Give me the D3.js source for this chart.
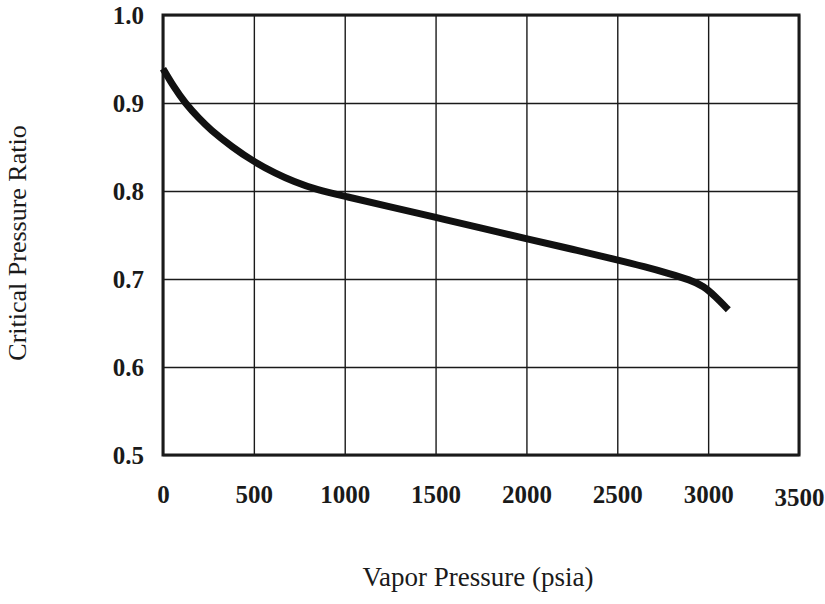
<!DOCTYPE html>
<html>
<head>
<meta charset="utf-8">
<script src="https://cdn.jsdelivr.net/npm/d3@7"></script>
<style>
  html, body { margin: 0; padding: 0; background: #fff; }
  svg { display: block; }
</style>
</head>
<body>
<svg id="chart" width="825" height="604"></svg>
<script>
// Data
const vaporPressure = [0, 60, 121, 200, 259, 380, 502, 620, 717, 850, 1002, 1250, 1502, 1750, 2015, 2250, 2496, 2650, 2789, 2900, 2975, 3040, 3111];
const criticalRatio = [0.939, 0.918, 0.900, 0.882, 0.870, 0.850, 0.833, 0.820, 0.811, 0.801, 0.794, 0.782, 0.770, 0.758, 0.745, 0.734, 0.722, 0.714, 0.706, 0.699, 0.692, 0.680, 0.665];
const xTicks = [0, 500, 1000, 1500, 2000, 2500, 3000, 3500];
const yTicks = [0.5, 0.6, 0.7, 0.8, 0.9, 1.0];
const xTitle = "Vapor Pressure (psia)";
const yTitle = "Critical Pressure Ratio";

const W = 825, H = 604;
const margin = { top: 15, right: 26, bottom: 149, left: 163 };
const iw = W - margin.left - margin.right;
const ih = H - margin.top - margin.bottom;

const svg = d3.select("#chart");
const g = svg.append("g").attr("transform", `translate(${margin.left},${margin.top})`);

const x = d3.scaleLinear().domain([0, 3500]).range([0, iw]);
const y = d3.scaleLinear().domain([0.5, 1.0]).range([ih, 0]);

const font = "'Liberation Serif', 'Times New Roman', serif";
const ink = "#1a1a1a";

// Grid lines
g.append("g")
  .call(d3.axisBottom(x).tickValues(xTicks).tickSize(-ih).tickFormat(""))
  .attr("transform", `translate(0,${ih})`)
  .call(s => s.select(".domain").remove())
  .call(s => s.selectAll("line").attr("stroke", ink).attr("stroke-width", 1.4));

g.append("g")
  .call(d3.axisLeft(y).tickValues(yTicks).tickSize(-iw).tickFormat(""))
  .call(s => s.select(".domain").remove())
  .call(s => s.selectAll("line").attr("stroke", ink).attr("stroke-width", 1.4));

// Frame
g.append("rect")
  .attr("x", 0).attr("y", 0).attr("width", iw).attr("height", ih)
  .attr("fill", "none").attr("stroke", ink).attr("stroke-width", 3);

// Tick labels
const xAxis = g.append("g")
  .attr("transform", `translate(0,${ih})`)
  .call(d3.axisBottom(x).tickValues(xTicks).tickSize(0).tickPadding(25).tickFormat(d3.format("d")));
xAxis.select(".domain").remove();
xAxis.selectAll("text")
  .attr("font-family", font).attr("font-size", 25).attr("font-weight", "bold").attr("fill", ink)
  .attr("dy", (d) => d === 3500 ? "1.05em" : "0.9em");

const yAxis = g.append("g")
  .call(d3.axisLeft(y).tickValues(yTicks).tickSize(0).tickPadding(19).tickFormat(d3.format(".1f")));
yAxis.select(".domain").remove();
yAxis.selectAll("text")
  .attr("font-family", font).attr("font-size", 25).attr("font-weight", "bold").attr("fill", ink);

// Curve
const pts = vaporPressure.map((v, i) => [v, criticalRatio[i]]);
g.append("path")
  .datum(pts)
  .attr("fill", "none")
  .attr("stroke", "#111")
  .attr("stroke-width", 7)
  .attr("stroke-linecap", "butt")
  .attr("stroke-linejoin", "round")
  .attr("d", d3.line().x(d => x(d[0])).y(d => y(d[1])).curve(d3.curveBasis));

// Axis titles
svg.append("text")
  .attr("x", 478).attr("y", 586)
  .attr("text-anchor", "middle")
  .attr("font-family", font).attr("font-size", 27).attr("fill", ink)
  .text(xTitle);

svg.append("text")
  .attr("transform", "translate(26,243) rotate(-90)")
  .attr("text-anchor", "middle")
  .attr("font-family", font).attr("font-size", 26).attr("fill", ink)
  .text(yTitle);
</script>
</body>
</html>
